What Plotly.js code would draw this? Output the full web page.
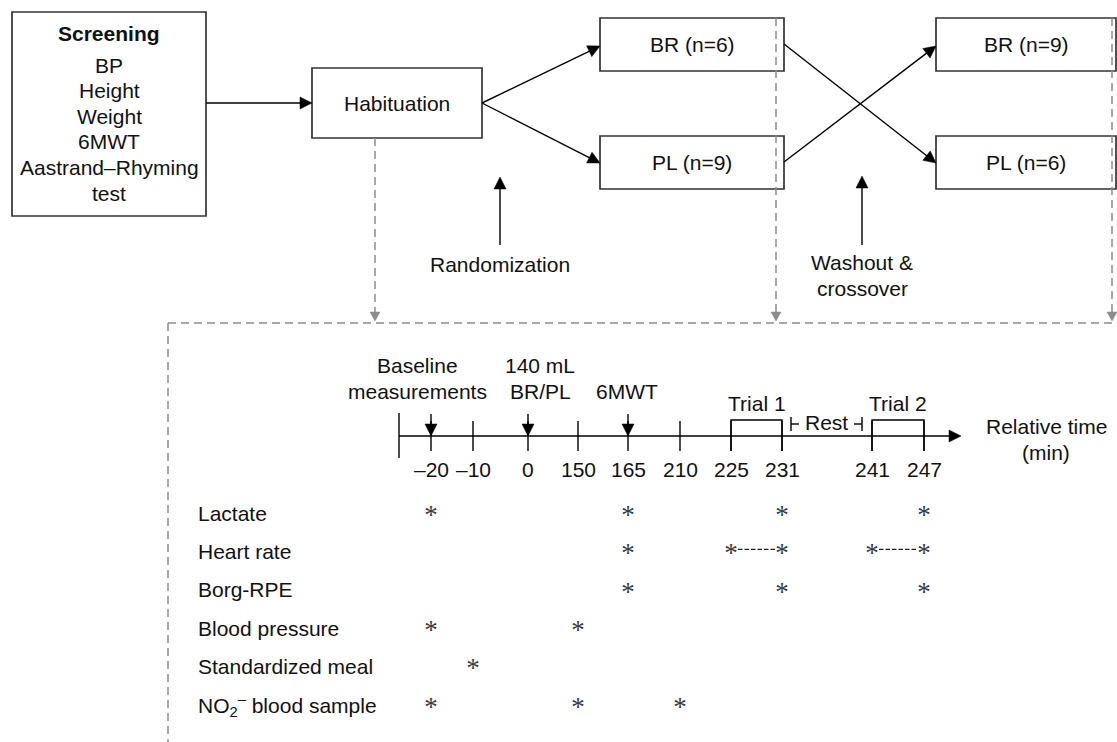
<!DOCTYPE html>
<html><head><meta charset="utf-8">
<script src="https://cdn.plot.ly/plotly-3.0.1.min.js"></script>
<style>html,body{margin:0;padding:0;background:#fff;overflow:hidden}#chart{width:1117px;height:742px}</style>
</head><body><div id="chart"></div>
<script>
// ---------------- data ----------------
const screeningTitle = 'Screening';
const screeningItems = ['BP', 'Height', 'Weight', '6MWT', 'Aastrand–Rhyming', 'test'];
const stageLabel = 'Habituation';
const period1Arms = ['BR (n=6)', 'PL (n=9)'];
const period2Arms = ['BR (n=9)', 'PL (n=6)'];
const transitionLabels = ['Randomization', 'Washout &<br>crossover'];
const timepoints = [-20, -10, 0, 150, 165, 210, 225, 231, 241, 247];
const tickLabels = ['–20', '–10', '0', '150', '165', '210', '225', '231', '241', '247'];
const eventNames = ['Baseline<br>measurements', '140 mL<br>BR/PL', '6MWT'];
const eventTimes = [-20, 0, 165];
const trialNames = ['Trial 1', 'Trial 2'];
const trialStart = [225, 241];
const trialEnd = [231, 247];
const restLabel = 'Rest';
const axisLabel = 'Relative time<br>(min)';
const measures = ['Lactate', 'Heart rate', 'Borg-RPE', 'Blood pressure', 'Standardized meal',
                  'NO<sub>2</sub><sup>–</sup> blood sample'];
const measureTimes = [[-20, 165, 231, 247], [165, 225, 231, 241, 247], [165, 231, 247],
                      [-20, 150], [-10], [-20, 150, 210]];
const hrSpans = [[225, 231], [241, 247]];   // continuous heart-rate recording

// ---------------- layout geometry (pixel canvas) ----------------
const W = 1117, H = 742;
const slotX = [431, 473, 528, 578, 628, 680, 731, 782, 872, 924];
const xOf = t => slotX[timepoints.indexOf(t)];
const rowY = i => 513 + i * 38.4;
const lineY = 436;
const FONT = 'Liberation Sans, Arial, sans-serif';
const FS = 21;
const TXT = '#111';
const BOX = '#333';
const GRAY = '#8c8c8c';

const shapes = [];
const annotations = [];

function text(x, y, t, o) {
  o = o || {};
  annotations.push(Object.assign({
    x: x, y: y, xref: 'x', yref: 'y', text: t, showarrow: false,
    xanchor: 'center', yanchor: 'middle',
    font: {family: FONT, size: FS, color: TXT}
  }, o));
}
function lines(x, yTop, t, step, o) {
  t.split('<br>').forEach((s, i) => text(x, yTop + i * step, s, o));
}
function seg(x0, y0, x1, y1, color, w, dash) {
  shapes.push({type: 'line', xref: 'x', yref: 'y', x0: x0, y0: y0, x1: x1, y1: y1,
    line: {color: color || '#000', width: w || 1.4, dash: dash || 'solid'}});
}
function head(x0, y0, x1, y1, color, L, hw) {
  const dx = x1 - x0, dy = y1 - y0, d = Math.hypot(dx, dy);
  const ux = dx / d, uy = dy / d, bx = x1 - ux * L, by = y1 - uy * L;
  const p1x = bx - uy * hw, p1y = by + ux * hw, p2x = bx + uy * hw, p2y = by - ux * hw;
  shapes.push({type: 'path', xref: 'x', yref: 'y',
    path: `M${x1},${y1} L${p1x},${p1y} L${p2x},${p2y} Z`,
    fillcolor: color, line: {color: color, width: 0.5}});
  return [bx + ux * 1, by + uy * 1];
}
function arrow(x0, y0, x1, y1, color, w, L, hw, dash) {
  color = color || '#000';
  const b = head(x0, y0, x1, y1, color, L || 12, hw || 6);
  seg(x0, y0, b[0], b[1], color, w || 1.4, dash);
}
function rect(x0, y0, x1, y1) {
  shapes.push({type: 'rect', xref: 'x', yref: 'y', x0: x0, y0: y0, x1: x1, y1: y1,
    line: {color: BOX, width: 1.7}, fillcolor: 'rgba(0,0,0,0)'});
}

// ---- top flow ----
rect(12, 12, 206, 216);
text(109, 33, '<b>' + screeningTitle + '</b>');
screeningItems.forEach((s, i) => text(109, 65 + i * 25.6, s));

rect(312, 68, 482, 138);
text(397, 103, stageLabel);
arrow(206, 103, 312, 103);

const armY = [44.5, 162.5];
const armBoxY = [[18, 71], [136, 189]];
period1Arms.forEach((s, i) => { rect(600, armBoxY[i][0], 784, armBoxY[i][1]); text(692, armY[i], s); });
period2Arms.forEach((s, i) => { rect(936, armBoxY[i][0], 1116, armBoxY[i][1]); text(1026, armY[i], s); });
arrow(482, 103, 600, 46);
arrow(482, 103, 600, 163);
arrow(784, 44, 936, 163);
arrow(784, 162, 936, 46);

arrow(500, 245, 500, 177);
text(500, 264, transitionLabels[0]);
arrow(862, 245, 862, 176);
lines(862, 262, transitionLabels[1], 26);

// ---- grey dashed connectors ----
const DASH = '8px,5px';
seg(375, 138, 375, 314, GRAY, 1.5, DASH);
seg(776, 18, 776, 314, GRAY, 1.5, DASH);
seg(1112, 18, 1112, 314, GRAY, 1.5, DASH);
[375, 776, 1112].forEach(x => head(x, 300, x, 321, GRAY, 9, 5));
seg(168, 323, W, 323, GRAY, 1.5, DASH);
seg(168, 323, 168, H, GRAY, 1.5, DASH);

// ---- timeline ----
arrow(399, lineY, 961, lineY);
seg(399, 413, 399, 458);
timepoints.forEach((t, i) => {
  seg(slotX[i], 421, slotX[i], 451);
  text(slotX[i], 469, tickLabels[i]);
});
const eventLabelX = [417, 540, 627];
eventTimes.forEach((t, i) => {
  arrow(xOf(t), 414, xOf(t), lineY);
  const parts = eventNames[i].split('<br>');
  const top = 391 - (parts.length - 1) * 26;
  lines(eventLabelX[i], top, eventNames[i], 26);
});
trialNames.forEach((s, i) => {
  const a = xOf(trialStart[i]), b = xOf(trialEnd[i]);
  shapes.push({type: 'path', xref: 'x', yref: 'y',
    path: `M${a},451 L${a},420 L${b},420 L${b},451`, line: {color: '#000', width: 1.4}});
  text((a + b) / 2, 403, s);
});
// rest interval marker
const r0 = xOf(trialEnd[0]) + 9, r1 = xOf(trialStart[1]) - 10;
seg(r0, 417, r0, 431); seg(r0, 424, r0 + 8, 424);
seg(r1, 417, r1, 431); seg(r1 - 8, 424, r1, 424);
text((r0 + r1) / 2, 422, restLabel);
lines(1046, 426, axisLabel, 26);

// ---- measurement schedule ----
measures.forEach((m, i) => text(196, rowY(i), m, {xanchor: 'left'}));
hrSpans.forEach(sp => {
  const ri = measures.indexOf('Heart rate');
  seg(xOf(sp[0]) + 7, rowY(ri) - 2, xOf(sp[1]) - 7, rowY(ri) - 2, '#222', 1.2, '4.5px,2px');
});
const sx = [], sy = [];
measureTimes.forEach((ts, i) => ts.forEach(t => { sx.push(xOf(t)); sy.push(rowY(i) + 4); }));

const traces = [{
  type: 'scatter', mode: 'text', x: sx, y: sy, text: sx.map(() => '*'),
  textposition: 'middle center', cliponaxis: false, hoverinfo: 'skip', showlegend: false,
  textfont: {family: 'Liberation Serif, Times New Roman, serif', size: 27, color: '#3a3a3a'}
}];

const layout = {
  width: W, height: H, margin: {l: 0, r: 0, t: 0, b: 0, pad: 0},
  paper_bgcolor: '#fff', plot_bgcolor: '#fff', showlegend: false,
  xaxis: {range: [0, W], visible: false, fixedrange: true},
  yaxis: {range: [H, 0], visible: false, fixedrange: true},
  shapes: shapes, annotations: annotations
};
Plotly.newPlot('chart', traces, layout, {staticPlot: true, displayModeBar: false});
</script></body></html>
